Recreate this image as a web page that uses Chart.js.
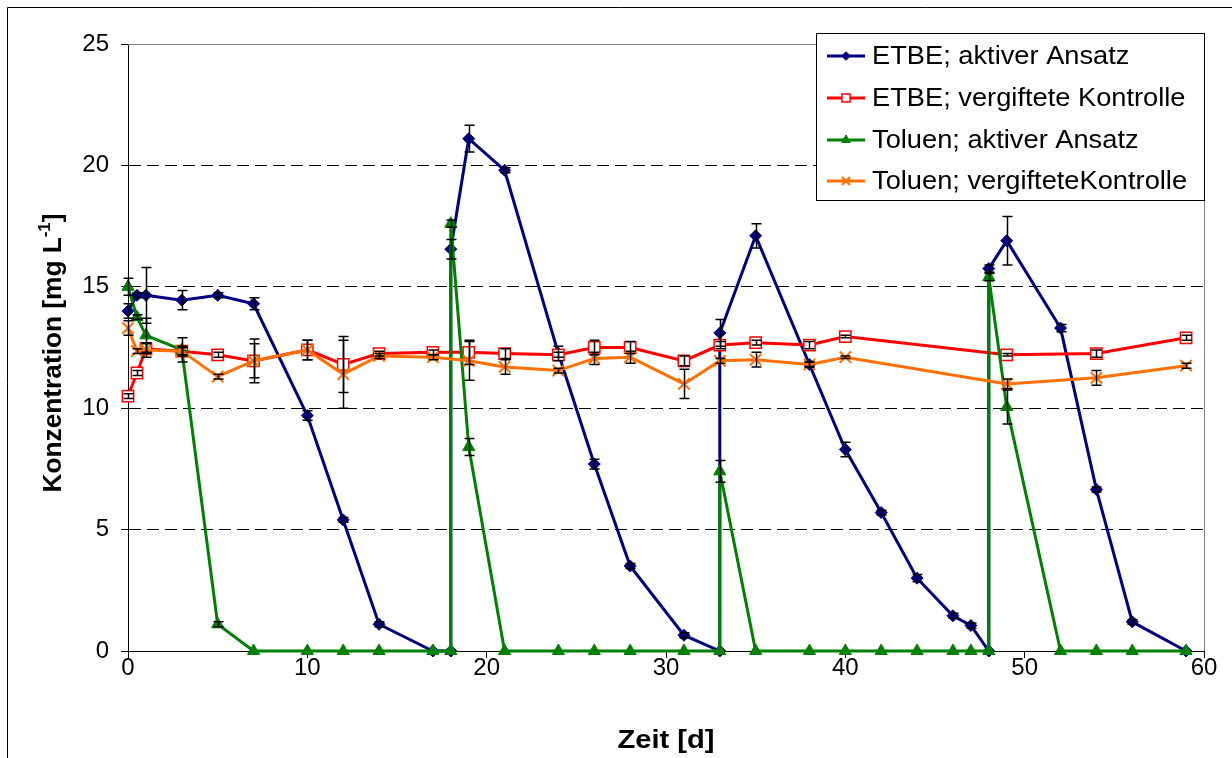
<!DOCTYPE html>
<html lang="de">
<head>
<meta charset="utf-8">
<title>Konzentration ETBE / Toluen</title>
<script src="https://cdn.jsdelivr.net/npm/chart.js@4.4.1/dist/chart.umd.min.js"></script>
<style>
  html, body { margin: 0; padding: 0; background: #fff; }
  canvas { display: block; }
</style>
</head>
<body>
<canvas id="chart" width="1232" height="758"></canvas>
<script>
// Messtage und Werte je Reihe (Konzentration in mg/L, Fehler = +/- Standardabweichung)
const tageAktiv = [0, 0.5, 1, 3, 5, 7, 10, 12, 14, 17, 18, 18, 19, 21, 24, 26, 28, 31, 33, 33, 35, 38, 40, 42, 44, 46, 47, 48, 48, 49, 52, 54, 56, 59];
const etbeAktiv = [14.0, 14.65, 14.65, 14.45, 14.65, 14.3, 9.7, 5.4, 1.1, 0, 0, 16.55, 21.1, 19.8, 12.25, 7.7, 3.5, 0.65, 0, 13.1, 17.1, 11.8, 8.3, 5.7, 3.0, 1.45, 1.05, 0, 15.75, 16.9, 13.3, 6.65, 1.2, 0];
const etbeAktivFehler = [0.3, 0.1, 1.15, 0.4, 0.1, 0.25, 0.2, 0.1, 0.1, 0, 0, 0.4, 0.55, 0.1, 0.3, 0.2, 0.1, 0.1, 0, 0.55, 0.5, 0.1, 0.3, 0.1, 0.15, 0.1, 0.1, 0, 0.15, 1.0, 0.15, 0.1, 0.1, 0];
const toluenAktiv = [15.0, 13.75, 13.0, 12.4, 1.1, 0, 0, 0, 0, 0, 0, 17.6, 8.4, 0, 0, 0, 0, 0, 0, 7.4, 0, 0, 0, 0, 0, 0, 0, 0, 15.4, 10.05, 0, 0, 0, 0];
const toluenAktivFehler = [0.35, 0.1, 0.7, 0.5, 0.1, 0, 0, 0, 0, 0, 0, 0.15, 0.35, 0, 0, 0, 0, 0, 0, 0.45, 0, 0, 0, 0, 0, 0, 0, 0, 0.15, 0.7, 0, 0, 0, 0];

const tageKontrolle = [0, 0.5, 1, 3, 5, 7, 10, 12, 14, 17, 19, 21, 24, 26, 28, 31, 33, 35, 38, 40, 49, 54, 59];
const etbeKontrolle = [10.5, 11.45, 12.45, 12.35, 12.2, 11.95, 12.4, 11.8, 12.25, 12.3, 12.3, 12.25, 12.2, 12.5, 12.5, 11.95, 12.6, 12.7, 12.6, 12.95, 12.2, 12.25, 12.9];
const etbeKontrolleFehler = [0.1, 0.1, 0.2, 0.15, 0.1, 0.7, 0.4, 1.15, 0.1, 0.1, 0.5, 0.2, 0.1, 0.3, 0.25, 0.2, 0.15, 0.1, 0.15, 0.05, 0.05, 0.15, 0.1];
const toluenKontrolle = [13.3, 12.35, 12.4, 12.35, 11.3, 11.95, 12.4, 11.4, 12.15, 12.1, 11.95, 11.7, 11.55, 12.05, 12.1, 11.0, 11.95, 12.0, 11.8, 12.1, 11.0, 11.25, 11.75];
const toluenKontrolleFehler = [0.3, 0.1, 0.3, 0.2, 0.1, 0.9, 0.4, 1.4, 0.1, 0.1, 0.8, 0.3, 0.1, 0.25, 0.25, 0.6, 0.1, 0.3, 0.1, 0.05, 0.2, 0.3, 0.1];

const xTicks = [0, 10, 20, 30, 40, 50, 60];
const yTicks = [0, 5, 10, 15, 20, 25];

const SCHRIFT = "'Liberation Sans', Arial, sans-serif";

function punkte(tage, werte) {
  return tage.map((t, i) => ({ x: t, y: werte[i] }));
}

function reihe(label, tage, werte, fehler, farbe, stil, opts) {
  return Object.assign({
    label,
    data: punkte(tage, werte),
    fehler,
    borderColor: farbe,
    backgroundColor: farbe,
    pointBorderColor: farbe,
    pointBackgroundColor: farbe,
    pointStyle: stil,
    borderWidth: 3,
    pointBorderWidth: 1,
    tension: 0,
    clip: false
  }, opts);
}

const datasets = [
  reihe('ETBE; aktiver Ansatz', tageAktiv, etbeAktiv, etbeAktivFehler, '#000080', 'rectRot', { pointRadius: 6, order: 4 }),
  reihe('ETBE; vergiftete Kontrolle', tageKontrolle, etbeKontrolle, etbeKontrolleFehler, '#ff0000', 'rect', { pointRadius: 8, pointBackgroundColor: '#ffffff', pointBorderWidth: 1.5, order: 3 }),
  reihe('Toluen; aktiver Ansatz', tageAktiv, toluenAktiv, toluenAktivFehler, '#008000', 'triangle', { pointRadius: 7, order: 2 }),
  reihe('Toluen; vergifteteKontrolle', tageKontrolle, toluenKontrolle, toluenKontrolleFehler, '#ff7000', 'crossRot', { pointRadius: 8, pointBorderWidth: 2, order: 1 })
];

// Text leicht in die Breite gezogen zeichnen
function breitText(ctx, text, x, y, faktor) {
  ctx.save();
  ctx.translate(x, y);
  ctx.scale(faktor, 1);
  ctx.fillText(text, 0, 0);
  ctx.restore();
}

// Rahmen um die Grafik und um die Zeichenfläche
const rahmen = {
  id: 'rahmen',
  beforeDatasetsDraw(chart) {
    const { ctx, chartArea: a } = chart;
    ctx.save();
    ctx.strokeStyle = '#000';
    ctx.lineWidth = 1;
    ctx.beginPath();
    ctx.moveTo(7.5, 800);
    ctx.lineTo(7.5, 7.5);
    ctx.lineTo(1300, 7.5);
    ctx.stroke();
    ctx.strokeStyle = '#808080';
    ctx.beginPath();
    ctx.moveTo(a.left, Math.round(a.top) + 0.5);
    ctx.lineTo(Math.round(a.right) + 0.5, Math.round(a.top) + 0.5);
    ctx.lineTo(Math.round(a.right) + 0.5, a.bottom);
    ctx.stroke();
    ctx.restore();
  }
};

// Fehlerbalken mit Querstrichen
const fehlerBalken = {
  id: 'fehlerBalken',
  afterDatasetsDraw(chart) {
    const { ctx, scales: { x, y } } = chart;
    ctx.save();
    ctx.strokeStyle = '#000';
    ctx.lineWidth = 1.5;
    chart.data.datasets.forEach(ds => {
      ds.data.forEach((p, i) => {
        const e = ds.fehler[i];
        if (!e) return;
        const px = Math.round(x.getPixelForValue(p.x)) + 0.5;
        const oben = y.getPixelForValue(p.y + e);
        const unten = y.getPixelForValue(p.y - e);
        ctx.beginPath();
        ctx.moveTo(px, oben);
        ctx.lineTo(px, unten);
        ctx.moveTo(px - 5, oben);
        ctx.lineTo(px + 5, oben);
        ctx.moveTo(px - 5, unten);
        ctx.lineTo(px + 5, unten);
        ctx.stroke();
      });
    });
    ctx.restore();
  }
};

// Achsentitel (mit hochgestellter Einheit) und Legende
const beschriftung = {
  id: 'beschriftung',
  afterDraw(chart) {
    const { ctx, chartArea: a } = chart;
    ctx.save();
    ctx.fillStyle = '#000';

    ctx.font = 'bold 26px ' + SCHRIFT;
    ctx.textAlign = 'left';
    ctx.textBaseline = 'alphabetic';
    const fx = 1.12;
    const wz = ctx.measureText('Zeit [d]').width * fx;
    breitText(ctx, 'Zeit [d]', (a.left + a.right) / 2 - wz / 2, 748, fx);

    // y-Titel
    const fy = 1.05;
    const teil1 = 'Konzentration [mg L';
    const hoch = '-1';
    const teil2 = ']';
    ctx.font = 'bold 25px ' + SCHRIFT;
    const w1 = ctx.measureText(teil1).width;
    const w3 = ctx.measureText(teil2).width;
    ctx.font = 'bold 16px ' + SCHRIFT;
    const w2 = ctx.measureText(hoch).width;
    const gesamt = (w1 + w2 + w3) * fy;
    ctx.translate(52, 353);
    ctx.rotate(-Math.PI / 2);
    ctx.scale(fy, 1);
    let xp = -gesamt / fy / 2;
    ctx.font = 'bold 25px ' + SCHRIFT;
    ctx.fillText(teil1, xp, 9);
    xp += w1;
    ctx.font = 'bold 16px ' + SCHRIFT;
    ctx.fillText(hoch, xp, -2);
    xp += w2;
    ctx.font = 'bold 25px ' + SCHRIFT;
    ctx.fillText(teil2, xp, 9);
    ctx.restore();

    // Legende
    ctx.save();
    const lx = 816.5, ly = 33.5, lw = 388, lh = 167;
    ctx.fillStyle = '#fff';
    ctx.fillRect(lx, ly, lw, lh);
    ctx.strokeStyle = '#000';
    ctx.lineWidth = 1;
    ctx.strokeRect(lx, ly, lw, lh);
    const zeilen = [56, 98, 140, 181];
    chart.data.datasets.forEach((ds, i) => {
      const yy = zeilen[i];
      ctx.strokeStyle = ds.borderColor;
      ctx.lineWidth = 3;
      ctx.beginPath();
      ctx.moveTo(827, yy);
      ctx.lineTo(865, yy);
      ctx.stroke();
      ctx.fillStyle = ds.pointBackgroundColor;
      ctx.strokeStyle = ds.pointBorderColor;
      ctx.lineWidth = ds.pointBorderWidth;
      Chart.helpers.drawPoint(ctx, {
        pointStyle: ds.pointStyle,
        radius: ds.pointRadius * 0.72,
        rotation: 0,
        borderWidth: ds.pointBorderWidth
      }, 846, yy);
      ctx.fillStyle = '#000';
      ctx.font = '25px ' + SCHRIFT;
      ctx.textAlign = 'left';
      ctx.textBaseline = 'middle';
      breitText(ctx, ds.label, 872, yy + 1, 1.09);
    });
    ctx.restore();
  }
};

const ctx = document.getElementById('chart').getContext('2d');
const chart = new Chart(ctx, {
  type: 'line',
  data: { datasets },
  plugins: [rahmen, fehlerBalken, beschriftung],
  options: {
    responsive: false,
    animation: false,
    events: [],
    layout: { padding: { top: 44, right: 28, left: 0, bottom: 0 } },
    plugins: { legend: { display: false }, tooltip: { enabled: false } },
    scales: {
      x: {
        type: 'linear',
        min: 0,
        max: 60,
        afterBuildTicks: s => { s.ticks = xTicks.map(v => ({ value: v })); },
        afterFit: s => { s.height = 107; },
        ticks: { color: '#000', font: { family: SCHRIFT, size: 24, lineHeight: 1 }, padding: -2, maxRotation: 0 },
        grid: { drawOnChartArea: false, tickLength: 7, tickColor: '#000' },
        border: { color: '#000', width: 1 }
      },
      y: {
        type: 'linear',
        min: 0,
        max: 25,
        afterBuildTicks: s => { s.ticks = yTicks.map(v => ({ value: v })); },
        afterFit: s => { s.width = 128; },
        ticks: { color: '#000', font: { family: SCHRIFT, size: 24 }, padding: 12 },
        grid: {
          color: c => (c.tick && (c.tick.value === 0 || c.tick.value === 25)) ? 'rgba(0,0,0,0)' : '#000',
          tickLength: 7,
          tickColor: '#000',
          lineWidth: 1
        },
        border: { color: '#000', width: 1, dash: [12, 6] }
      }
    }
  }
});
</script>
</body>
</html>
